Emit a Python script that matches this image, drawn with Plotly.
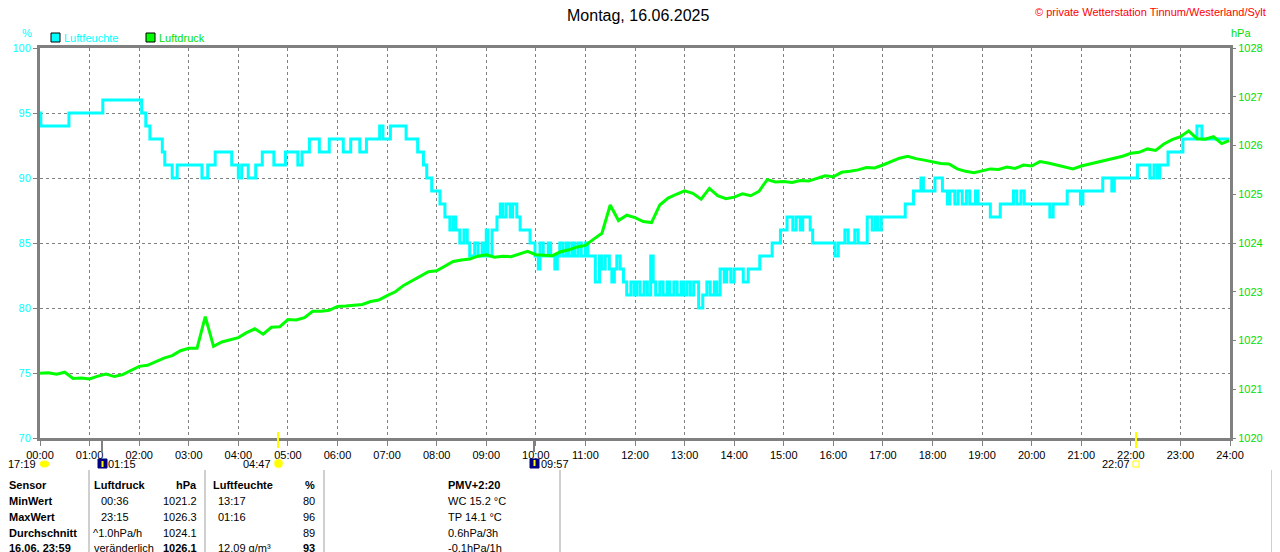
import plotly.graph_objects as go

# Luftfeuchte (%), Stufenwerte: Minute des Tages -> Wert
hum_min = [0, 1, 35, 76, 123, 128, 133, 148, 151, 160, 166, 196, 203, 212, 232, 240, 244, 252, 261, 269,
           283, 297, 312, 317, 326, 338, 350, 367, 376, 387, 395, 411, 415, 424, 443, 457, 464, 468, 474, 484,
           490, 496, 500, 503, 508, 513, 517, 520, 526, 530, 535, 537, 540, 542, 547, 553, 557, 560, 564, 569,
           572, 577, 581, 593, 599, 603, 605, 609, 615, 618, 623, 626, 629, 633, 637, 640, 644, 647, 651, 655,
           660, 663, 672, 677, 680, 684, 689, 692, 695, 698, 702, 706, 710, 715, 719, 722, 726, 731, 735, 739,
           742, 745, 750, 754, 759, 762, 767, 771, 776, 779, 783, 787, 791, 797, 802, 807, 811, 816, 819, 823,
           828, 831, 836, 840, 851, 857, 871, 886, 896, 904, 911, 915, 920, 923, 932, 935, 962, 966, 974, 978,
           986, 990, 1001, 1007, 1011, 1014, 1018, 1047, 1057, 1066, 1069, 1083, 1092, 1098, 1101, 1107, 1111, 1116, 1121, 1125,
           1132, 1135, 1150, 1162, 1178, 1182, 1187, 1191, 1222, 1226, 1243, 1259, 1262, 1286, 1297, 1300, 1328, 1343, 1348, 1352,
           1355, 1365, 1383, 1400, 1406, 1439]
hum_val = [95, 94, 95, 96, 95, 94, 93, 92, 91, 90, 91, 90, 91, 92, 91, 90, 91, 90, 91, 92,
           91, 92, 91, 92, 93, 92, 93, 92, 93, 92, 93, 94, 93, 94, 93, 92, 91, 90, 89, 88,
           87, 86, 87, 86, 85, 86, 85, 84, 85, 84, 85, 84, 86, 84, 86, 87, 88, 87, 88, 87,
           88, 87, 86, 85, 84, 83, 85, 84, 85, 84, 83, 84, 85, 84, 85, 84, 85, 84, 85, 84,
           85, 84, 82, 84, 83, 84, 83, 82, 83, 84, 83, 82, 81, 82, 81, 82, 81, 82, 81, 84,
           82, 81, 82, 81, 82, 81, 82, 81, 82, 81, 82, 81, 82, 80, 81, 82, 81, 82, 81, 83,
           82, 83, 82, 83, 82, 83, 84, 85, 86, 87, 86, 87, 86, 87, 86, 85, 84, 85, 86, 85,
           86, 85, 87, 86, 87, 86, 87, 88, 89, 90, 89, 90, 89, 88, 89, 88, 89, 88, 89, 88,
           89, 88, 87, 88, 89, 88, 89, 88, 87, 88, 89, 88, 89, 90, 89, 90, 91, 90, 91, 90,
           91, 92, 93, 94, 93, 93]

# Luftdruck (hPa), alle 10 Minuten
pres_min = list(range(0, 1440, 10)) + [1439]
pres_val = [1021.33, 1021.34, 1021.31, 1021.35, 1021.22, 1021.23, 1021.21, 1021.27, 1021.31, 1021.26,
            1021.30, 1021.38, 1021.47, 1021.49, 1021.57, 1021.64, 1021.69, 1021.79, 1021.84, 1021.84,
            1022.49, 1021.88, 1021.97, 1022.02, 1022.06, 1022.16, 1022.24, 1022.13, 1022.27, 1022.28,
            1022.43, 1022.42, 1022.47, 1022.60, 1022.60, 1022.62, 1022.70, 1022.71, 1022.72, 1022.74,
            1022.80, 1022.83, 1022.92, 1023.00, 1023.13, 1023.22, 1023.32, 1023.41, 1023.43, 1023.52,
            1023.62, 1023.65, 1023.67, 1023.73, 1023.76, 1023.71, 1023.73, 1023.72, 1023.78, 1023.83,
            1023.76, 1023.75, 1023.74, 1023.82, 1023.86, 1023.92, 1023.95, 1024.08, 1024.20, 1024.78,
            1024.46, 1024.57, 1024.52, 1024.44, 1024.42, 1024.78, 1024.92, 1025.00, 1025.07, 1025.02,
            1024.90, 1025.12, 1024.97, 1024.91, 1024.94, 1025.01, 1024.97, 1025.06, 1025.30, 1025.25,
            1025.26, 1025.24, 1025.28, 1025.27, 1025.33, 1025.38, 1025.36, 1025.45, 1025.47, 1025.50,
            1025.55, 1025.54, 1025.60, 1025.67, 1025.74, 1025.78, 1025.73, 1025.70, 1025.66, 1025.63,
            1025.62, 1025.52, 1025.47, 1025.44, 1025.48, 1025.52, 1025.51, 1025.56, 1025.53, 1025.60,
            1025.58, 1025.67, 1025.64, 1025.60, 1025.57, 1025.52, 1025.58, 1025.62, 1025.67, 1025.70,
            1025.74, 1025.78, 1025.84, 1025.86, 1025.93, 1025.90, 1026.03, 1026.12, 1026.18, 1026.30,
            1026.14, 1026.13, 1026.18, 1026.04, 1026.10]

hour_ticks = list(range(0, 1441, 60))
hour_labels = ["%02d:00" % h for h in range(25)]

# Tabelle unten
col_sensor = ["Sensor", "MinWert", "MaxWert", "Durchschnitt", "16.06. 23:59"]
col_druck_l = ["Luftdruck", "00:36", "23:15", "^1.0hPa/h", "veränderlich"]
col_druck_r = ["hPa", "1021.2", "1026.3", "1024.1", "1026.1"]
col_feuchte_l = ["Luftfeuchte", "13:17", "01:16", "", "12.09 g/m³"]
col_feuchte_r = ["%", "80", "96", "89", "93"]
col_extra = ["PMV+2:20", "WC 15.2 °C", "TP 14.1 °C", "0.6hPa/3h", "-0.1hPa/1h"]

CYAN = "#00ffff"
GREEN = "#00ff00"
GREY = "#808080"
FONT = "Liberation Sans"


# Bildschirmpixel -> Papierkoordinaten (Plotfläche 40..1230 x 48..438)
def px(x):
    return (x - 40) / 1190


def py(y):
    return (438 - y) / 390


fig = go.Figure()
fig.add_trace(go.Scatter(x=pres_min, y=pres_val, yaxis="y2", mode="lines",
                         line=dict(color=GREEN, width=3), name="Luftdruck"))
fig.add_trace(go.Scatter(x=hum_min, y=hum_val, mode="lines", line_shape="hv",
                         line=dict(color=CYAN, width=3), name="Luftfeuchte"))

ann = []
shapes = []


def text(x, y, s, color="black", size=11, anchor="left", bold=False):
    if bold:
        s = "<b>" + s + "</b>"
    ann.append(dict(x=px(x), y=py(y), xref="paper", yref="paper", text=s, showarrow=False,
                    xanchor=anchor, yanchor="middle", font=dict(family=FONT, size=size, color=color)))


def line(x0, y0, x1, y1, color=GREY, width=1, dash="solid"):
    shapes.append(dict(type="line", xref="paper", yref="paper", x0=px(x0), y0=py(y0), x1=px(x1), y1=py(y1),
                       line=dict(color=color, width=width, dash=dash)))


def rect(x0, y0, x1, y1, fill, outline=None, kind="rect"):
    shapes.append(dict(type=kind, xref="paper", yref="paper", x0=px(x0), y0=py(y0), x1=px(x1), y1=py(y1),
                       fillcolor=fill, line=dict(color=outline or fill, width=1)))


# Kopf
text(638, 15, "Montag, 16.06.2025", size=16, anchor="center")
text(1268, 12, "© private Wetterstation Tinnum/Westerland/Sylt", color="red", size=11, anchor="right")
text(27, 33, "%", color=CYAN, anchor="center")
text(1241, 33, "hPa", color="#00e000", anchor="center")
rect(51, 33, 60, 42, CYAN, "black")
text(62, 38, "Luftfeuchte", color=CYAN)
rect(146, 33, 155, 42, GREEN, "black")
text(157, 38, "Luftdruck", color="#00e000")

# Sonne / Mond
text(38, 464, "17:19", anchor="right")
rect(40, 461, 49, 467, "#ffff00", kind="circle")
line(102, 438, 102, 452, color=GREY, width=2)
rect(98, 459, 107, 468, "#000080")
line(102.5, 467, 102.5, 461, color="#ffff00", width=2)
text(106, 464, "01:15")
line(278, 432, 278, 448, color="#ffff00", width=2)
text(273, 464, "04:47", anchor="right")
rect(274, 459, 283, 468, "#ffff00", "#ffff80", kind="circle")
line(534, 438, 534, 452, color=GREY, width=2)
rect(530, 459, 539, 468, "#000080")
line(534.5, 460, 534.5, 466, color="#ffff00", width=2)
text(539, 464, "09:57")
line(1136, 432, 1136, 448, color="#ffff00", width=2)
text(1132, 464, "22:07", anchor="right")
rect(1133, 461, 1139, 467, "white", "#ffff00")

# Tabelle
rows_y = [485, 501, 517, 533, 548]
for sx in [89, 205, 324, 560, 1272]:
    line(sx, 470, sx, 552, color="#a0a0a0", width=1)
for i, yy in enumerate(rows_y):
    head = i == 0
    text(7, yy, col_sensor[i], bold=True)
    text(92 if i in (0, 4) else (91 if i == 3 else 99), yy, col_druck_l[i], bold=head)
    text(199, yy, col_druck_r[i], anchor="right", bold=head or i == 4)
    text(211 if head else 216, yy, col_feuchte_l[i], bold=head)
    text(317, yy, col_feuchte_r[i], anchor="right", bold=head or i == 4)
    text(446, yy, col_extra[i], bold=head)

# Rand rechts (Nachbarbild)
line(1272, 48, 1280, 48, width=3)
for yy in [137, 228, 318, 408, 498]:
    line(1272, yy, 1280, yy, width=1, dash="dot")
line(1273, 203, 1273, 211, color=GREEN, width=2)
line(1273, 211, 1280, 211, color=GREEN, width=3)
line(1275, 264, 1276, 282, color=CYAN, width=3)

# Seite hat 8px Rand: Figur 1272x544, Plotfläche bei Bildschirm 40..1230 / 48..438
fig.update_layout(
    width=1272, height=544,
    margin=dict(l=32, r=50, t=40, b=114, autoexpand=False),
    paper_bgcolor="white", plot_bgcolor="white",
    showlegend=False,
    font=dict(family=FONT, size=11, color="black"),
    xaxis=dict(range=[0, 1440], tickvals=hour_ticks, ticktext=hour_labels, automargin=False,
               showgrid=True, gridcolor=GREY, gridwidth=1, griddash="3px,3px",
               showline=True, linecolor=GREY, linewidth=3, mirror=True,
               ticks="outside", ticklen=5, tickcolor=GREY, zeroline=False,
               tickfont=dict(family=FONT, size=11, color="black")),
    yaxis=dict(range=[70, 100], dtick=5, tick0=70, automargin=False,
               showgrid=True, gridcolor=GREY, gridwidth=1, griddash="3px,3px",
               showline=True, linecolor=GREY, linewidth=3, mirror=True,
               ticks="outside", ticklen=4, tickcolor=GREY, zeroline=False,
               tickfont=dict(family=FONT, size=11, color=CYAN)),
    yaxis2=dict(range=[1020, 1028], dtick=1, overlaying="y", side="right", automargin=False,
                showgrid=False, zeroline=False, showline=False,
                ticks="outside", ticklen=5, tickcolor=GREY,
                tickfont=dict(family=FONT, size=11, color="#00e000")),
    annotations=ann,
    shapes=shapes,
)

fig.write_html("out.html")
